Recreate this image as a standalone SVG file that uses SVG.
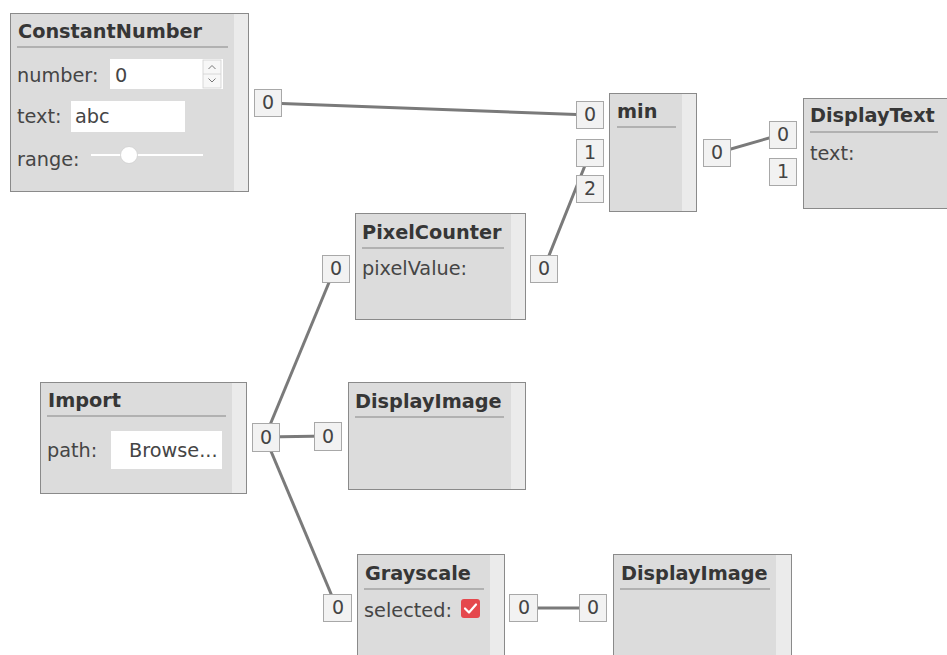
<svg xmlns="http://www.w3.org/2000/svg" width="947" height="655" viewBox="0 0 947 655">
  <style>
    .node { fill: #dcdcdc; stroke: #8a8a8a; stroke-width: 1; }
    .strip { fill: #ebebeb; }
    .rule { stroke: #a3a3a3; stroke-width: 1.5; }
    .title { font-family: "DejaVu Sans", "Liberation Sans", sans-serif; font-size: 19.3px; font-weight: bold; fill: #363636; }
    .label { font-family: "DejaVu Sans", "Liberation Sans", sans-serif; font-size: 19.3px; fill: #454545; }
    .port rect { fill: #f2f2f2; stroke: #a8a8a8; stroke-width: 1; }
    .port text { font-family: "DejaVu Sans", "Liberation Sans", sans-serif; font-size: 19px; fill: #444; text-anchor: middle; }
    .field { fill: #ffffff; }
    .wire { stroke: #7a7a7a; stroke-width: 3; fill: none; }
  </style>
  <rect width="947" height="655" fill="#ffffff"/>

  <!-- connectors, drawn beneath the ports -->
  <g id="connectors">
    <line class="wire" x1="268" y1="103" x2="590" y2="115"/>
    <line class="wire" x1="544" y1="268" x2="590" y2="153"/>
    <line class="wire" x1="717" y1="153" x2="783" y2="134"/>
    <line class="wire" x1="265" y1="437" x2="335" y2="268"/>
    <line class="wire" x1="265" y1="437" x2="328" y2="436"/>
    <line class="wire" x1="265" y1="437" x2="337" y2="608"/>
    <line class="wire" x1="523" y1="608" x2="593" y2="608"/>
  </g>

  <g id="ConstantNumber">
    <rect class="node" x="10.5" y="13.5" width="238" height="178"/>
    <rect class="strip" x="234" y="14" width="14" height="177"/>
    <text class="title" x="18" y="38">ConstantNumber</text>
    <line class="rule" x1="17" y1="47" x2="228" y2="47"/>
    <text class="label" x="17" y="82">number:</text>
    <rect class="field" x="110" y="59" width="113" height="30"/>
    <text class="label" x="115" y="82">0</text>
    <rect x="203" y="60" width="18" height="28" fill="#f7f7f7" stroke="#d0d0d0" stroke-width="0.8"/>
    <line x1="203" y1="74" x2="221" y2="74" stroke="#d0d0d0" stroke-width="0.8"/>
    <path d="M208.5 69 L212 65.5 L215.5 69" fill="none" stroke="#777" stroke-width="1"/>
    <path d="M208.5 78.5 L212 82 L215.5 78.5" fill="none" stroke="#777" stroke-width="1"/>
    <text class="label" x="17" y="123">text:</text>
    <rect class="field" x="71" y="101" width="114" height="31"/>
    <text class="label" x="75" y="123">abc</text>
    <text class="label" x="17" y="166">range:</text>
    <line x1="91" y1="155" x2="203" y2="155" stroke="#ffffff" stroke-width="2"/>
    <circle cx="129" cy="155" r="8.5" fill="#ffffff" stroke="#cfcfcf" stroke-width="0.8"/>
    <g class="port"><rect x="254.5" y="89.5" width="27" height="27"/><text x="268" y="109">0</text></g>
  </g>

  <g id="min">
    <rect class="node" x="609.5" y="93.5" width="87" height="118"/>
    <rect class="strip" x="682" y="94" width="14" height="117"/>
    <text class="title" x="617" y="118">min</text>
    <line class="rule" x1="617" y1="127" x2="676" y2="127"/>
    <g class="port"><rect x="576.5" y="101.5" width="27" height="27"/><text x="590" y="121">0</text></g>
    <g class="port"><rect x="576.5" y="139.5" width="27" height="27"/><text x="590" y="159">1</text></g>
    <g class="port"><rect x="576.5" y="175.5" width="27" height="27"/><text x="590" y="195">2</text></g>
    <g class="port"><rect x="703.5" y="139.5" width="27" height="27"/><text x="717" y="159">0</text></g>
  </g>

  <g id="DisplayText">
    <rect class="node" x="803.5" y="98.5" width="160" height="110"/>
    <text class="title" x="810" y="122">DisplayText</text>
    <line class="rule" x1="810" y1="132" x2="938" y2="132"/>
    <text class="label" x="810" y="160">text:</text>
    <g class="port"><rect x="769.5" y="121.5" width="27" height="27"/><text x="783" y="141">0</text></g>
    <g class="port"><rect x="769.5" y="158.5" width="27" height="27"/><text x="783" y="178">1</text></g>
  </g>

  <g id="PixelCounter">
    <rect class="node" x="355.5" y="213.5" width="170" height="106"/>
    <rect class="strip" x="511" y="214" width="14" height="105"/>
    <text class="title" x="362" y="239">PixelCounter</text>
    <line class="rule" x1="362" y1="248" x2="504" y2="248"/>
    <text class="label" x="362" y="275">pixelValue:</text>
    <g class="port"><rect x="322.5" y="255.5" width="27" height="27"/><text x="336" y="275">0</text></g>
    <g class="port"><rect x="530.5" y="255.5" width="27" height="27"/><text x="544" y="275">0</text></g>
  </g>

  <g id="Import">
    <rect class="node" x="40.5" y="382.5" width="206" height="111"/>
    <rect class="strip" x="232" y="383" width="14" height="110"/>
    <text class="title" x="48" y="407">Import</text>
    <line class="rule" x1="47" y1="416" x2="226" y2="416"/>
    <text class="label" x="47" y="457">path:</text>
    <rect class="field" x="111" y="431" width="111" height="38"/>
    <text class="label" x="129" y="457">Browse...</text>
    <g class="port"><rect x="252.5" y="423.5" width="27" height="28"/><text x="266" y="444">0</text></g>
  </g>

  <g id="DisplayImage1">
    <rect class="node" x="348.5" y="382.5" width="177" height="107"/>
    <rect class="strip" x="511" y="383" width="14" height="106"/>
    <text class="title" x="355" y="408">DisplayImage</text>
    <line class="rule" x1="355" y1="417" x2="504" y2="417"/>
    <g class="port"><rect x="314.5" y="422.5" width="27" height="28"/><text x="328" y="443">0</text></g>
  </g>

  <g id="Grayscale">
    <rect class="node" x="357.5" y="554.5" width="147" height="120"/>
    <rect class="strip" x="490" y="555" width="14" height="100"/>
    <text class="title" x="365" y="580">Grayscale</text>
    <line class="rule" x1="364" y1="589" x2="484" y2="589"/>
    <text class="label" x="364" y="617">selected:</text>
    <rect x="461" y="599" width="19" height="19" rx="3" fill="#e5484d"/>
    <path d="M465 608.5 L469 612.5 L476 604.5" fill="none" stroke="#ffffff" stroke-width="2.2" stroke-linecap="round" stroke-linejoin="round"/>
    <g class="port"><rect x="323.5" y="594.5" width="28" height="27"/><text x="338" y="614">0</text></g>
    <g class="port"><rect x="509.5" y="594.5" width="28" height="27"/><text x="524" y="614">0</text></g>
  </g>

  <g id="DisplayImage2">
    <rect class="node" x="613.5" y="554.5" width="178" height="120"/>
    <rect class="strip" x="776" y="555" width="15" height="100"/>
    <text class="title" x="621" y="580">DisplayImage</text>
    <line class="rule" x1="620" y1="589" x2="770" y2="589"/>
    <g class="port"><rect x="579.5" y="594.5" width="27" height="27"/><text x="593" y="614">0</text></g>
  </g>
</svg>
